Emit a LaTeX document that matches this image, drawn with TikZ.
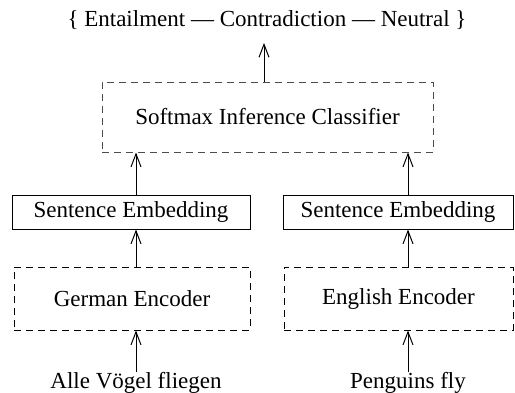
\documentclass[tikz,border=0pt]{standalone}
\usepackage{fontspec}
\setmainfont{Liberation Serif}
\usetikzlibrary{arrows.meta}
\begin{document}
\begin{tikzpicture}[x=0.5pt,y=-0.5pt,
  every node/.style={font=\fontsize{11.5}{14}\selectfont, inner sep=0pt},
  dbox/.style={draw, dash pattern=on 3.5pt off 2.5pt, line width=0.5pt},
  sbox/.style={draw, line width=0.5pt},
  conn/.style={line width=0.5pt, -{Straight Barb[length=6.5pt,width=5pt]}}]
\useasboundingbox (0,0) rectangle (515,392);
\node (out) at (267,20) {\{ Entailment --- Contradiction --- Neutral \}};
\node[dbox, draw=black!70, minimum width=331*0.5pt, minimum height=70*0.5pt] (cls) at (267.5,117) {Softmax Inference Classifier};
\node[sbox, minimum width=238*0.5pt, minimum height=34*0.5pt] (se1) at (131,212) {Sentence Embedding};
\node[sbox, minimum width=230*0.5pt, minimum height=34*0.5pt] (se2) at (398,212) {Sentence Embedding};
\node[dbox, minimum width=236*0.5pt, minimum height=63*0.5pt] (enc1) at (132,298.5) {German Encoder};
\node[dbox, minimum width=229*0.5pt, minimum height=63*0.5pt] (enc2) at (398.5,298.5) {English Encoder};
\node (in1) at (136,383) {Alle Vögel fliegen};
\node (in2) at (408,383) {Penguins fly};
\draw[conn] (in1.north) -- (in1.north |- enc1.south);
\draw[conn] (in2.north) -- (in2.north |- enc2.south);
\draw[conn] (in1.north |- enc1.north) -- (in1.north |- se1.south);
\draw[conn] (in2.north |- enc2.north) -- (in2.north |- se2.south);
\draw[conn] (in1.north |- se1.north) -- (in1.north |- cls.south);
\draw[conn] (in2.north |- se2.north) -- (in2.north |- cls.south);
\draw[conn, shorten >=6.5pt] (cls.north -| 264,0) -- (out.south -| 264,0);
\end{tikzpicture}
\end{document}
